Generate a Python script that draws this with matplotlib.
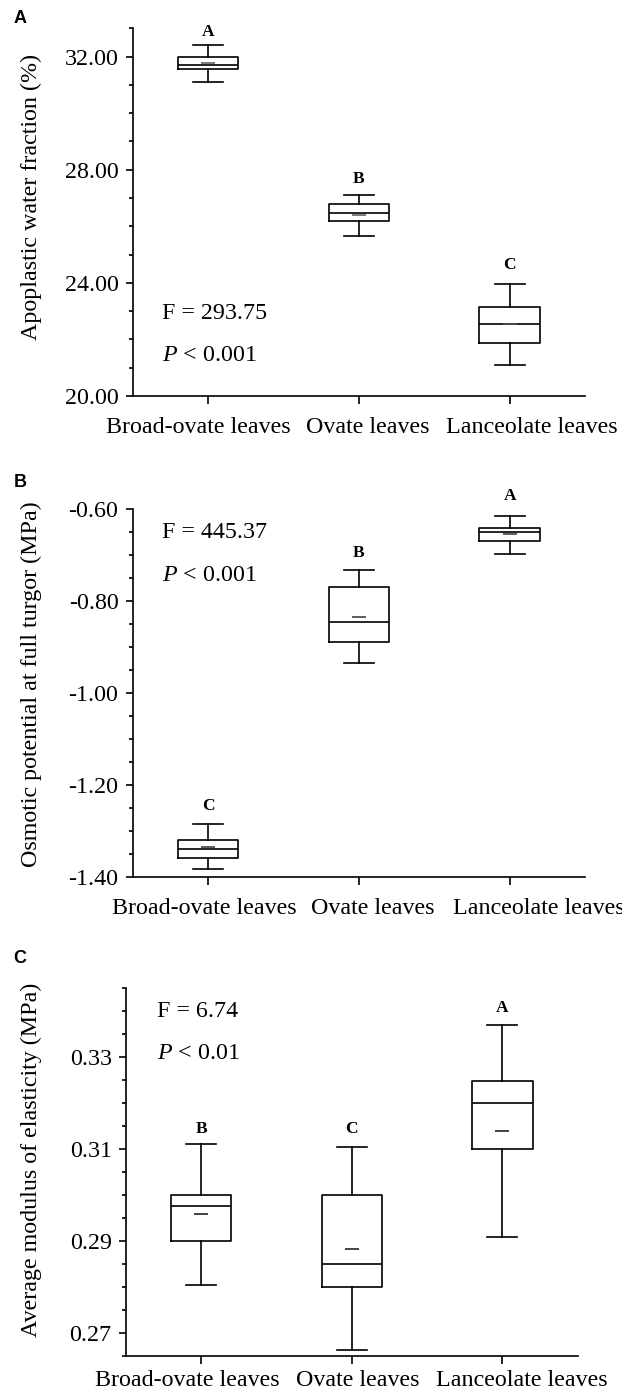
import matplotlib
matplotlib.use("Agg")
import matplotlib.pyplot as plt
import matplotlib.transforms as mtransforms
from matplotlib.ticker import MultipleLocator, FormatStrFormatter, FixedLocator

plt.rcParams['font.family'] = ['Liberation Serif', 'DejaVu Serif']
plt.rcParams['axes.unicode_minus'] = False
plt.rcParams['mathtext.fontset'] = 'custom'
plt.rcParams['mathtext.rm'] = 'Liberation Serif'
plt.rcParams['mathtext.it'] = 'Liberation Serif:italic'

categories = ["Broad-ovate leaves", "Ovate leaves", "Lanceolate leaves"]

# Panel A: Apoplastic water fraction (%)
a_whislo = [31.11, 25.66, 21.11]
a_q1 = [31.56, 26.18, 21.89]
a_med = [31.71, 26.48, 22.56]
a_mean = [31.76, 26.39, 22.53]
a_q3 = [31.98, 26.78, 23.16]
a_whishi = [32.41, 27.12, 23.95]
a_letters = ["A", "B", "C"]
a_letter_y = [32.74, 27.52, 24.49]
a_stats = ["F = 293.75", "$\\mathit{P}$ < 0.001"]
a_yticks = [20.0, 24.0, 28.0, 32.0]

# Panel B: Osmotic potential at full turgor (MPa)
b_whislo = [-1.384, -0.936, -0.698]
b_q1 = [-1.360, -0.890, -0.670]
b_med = [-1.340, -0.845, -0.649]
b_mean = [-1.335, -0.834, -0.655]
b_q3 = [-1.320, -0.770, -0.641]
b_whishi = [-1.286, -0.733, -0.615]
b_letters = ["C", "B", "A"]
b_letter_y = [-1.255, -0.704, -0.580]
b_stats = ["F = 445.37", "$\\mathit{P}$ < 0.001"]
b_yticks = [-1.40, -1.20, -1.00, -0.80, -0.60]

# Panel C: Average modulus of elasticity (MPa)
c_whislo = [0.2805, 0.2662, 0.2908]
c_q1 = [0.2900, 0.2800, 0.3100]
c_med = [0.2975, 0.2850, 0.3200]
c_mean = [0.2958, 0.2883, 0.3139]
c_q3 = [0.3000, 0.3000, 0.3249]
c_whishi = [0.3112, 0.3104, 0.3370]
c_letters = ["B", "C", "A"]
c_letter_y = [0.3135, 0.3134, 0.3399]
c_stats = ["F = 6.74", "$\\mathit{P}$ < 0.01"]
c_yticks = [0.27, 0.29, 0.31, 0.33]

W, H = 622, 1397
fig = plt.figure(figsize=(W / 100, H / 100), dpi=100)

FS = 17.3
LW = 1.2


def px_rect(left, right, top, bottom):
    return [left / W, 1 - bottom / H, (right - left) / W, (bottom - top) / H]


panels = [
    dict(rect=px_rect(132.7, 585, 28.3, 396), lo=a_whislo, q1=a_q1, med=a_med, mean=a_mean,
         q3=a_q3, hi=a_whishi, letters=a_letters, ly=a_letter_y, stats=a_stats,
         stat_x=-0.303, stat_y=[22.73, 21.25], ylim=(20, 33), yticks=a_yticks, minor=1,
         ylabel="Apoplastic water fraction (%)", ylab=(-0.2012, 0.540),
         xoff=[-10, 8.4, 22.5], xpad=9.5, tag="A", tag_y=23.3, mean_color="#555555"),
    dict(rect=px_rect(132.7, 585, 509, 876.7), lo=b_whislo, q1=b_q1, med=b_med, mean=b_mean,
         q3=b_q3, hi=b_whishi, letters=b_letters, ly=b_letter_y, stats=b_stats,
         stat_x=-0.303, stat_y=[-0.664, -0.756], ylim=(-1.4, -0.6), yticks=b_yticks, minor=0.05,
         ylabel="Osmotic potential at full turgor (MPa)", ylab=(-0.2012, 0.5235),
         xoff=[-4, 13.6, 29], xpad=9.5, tag="B", tag_y=486.7, mean_color="#333333"),
    dict(rect=px_rect(126, 577.7, 988.3, 1355.7), lo=c_whislo, q1=c_q1, med=c_med, mean=c_mean,
         q3=c_q3, hi=c_whishi, letters=c_letters, ly=c_letter_y, stats=c_stats,
         stat_x=-0.296, stat_y=[0.3388, 0.3297], ylim=(0.265, 0.345), yticks=c_yticks, minor=0.005,
         ylabel="Average modulus of elasticity (MPa)", ylab=(-0.1866, 0.5327),
         xoff=[-14, 5.5, 19.5], xpad=5.0, tag="C", tag_y=963.3, mean_color="#111111"),
]

for p in panels:
    ax = fig.add_axes(p["rect"])
    stats = []
    for i in range(3):
        stats.append(dict(whislo=p["lo"][i], q1=p["q1"][i], med=p["med"][i],
                          mean=p["mean"][i], q3=p["q3"][i], whishi=p["hi"][i],
                          fliers=[]))
    ax.bxp(stats, positions=[0, 1, 2], widths=0.4, capwidths=0.2, showmeans=True,
           showfliers=False,
           boxprops=dict(color="black", linewidth=LW),
           whiskerprops=dict(color="black", linewidth=LW),
           capprops=dict(color="black", linewidth=LW),
           medianprops=dict(color="black", linewidth=LW),
           meanprops=dict(marker="_", markersize=10, markeredgewidth=1.1,
                          markeredgecolor=p["mean_color"], color=p["mean_color"]))
    ax.set_xlim(-0.5, 2.5)
    ax.set_ylim(*p["ylim"])
    for s in ["top", "right"]:
        ax.spines[s].set_visible(False)
    for s in ["left", "bottom"]:
        ax.spines[s].set_linewidth(LW)
    ax.yaxis.set_major_locator(FixedLocator(p["yticks"]))
    ax.yaxis.set_minor_locator(MultipleLocator(p["minor"]))
    ax.yaxis.set_major_formatter(FormatStrFormatter("%.2f"))
    ax.tick_params(axis="y", which="major", direction="out", length=4.8, width=LW,
                   labelsize=FS, pad=5.5)
    ax.tick_params(axis="y", which="minor", direction="out", length=3.1, width=LW)
    ax.set_xticks([0, 1, 2])
    ax.set_xticklabels(categories)
    ax.tick_params(axis="x", which="major", direction="out", length=5.5, width=LW,
                   labelsize=FS, pad=p["xpad"])
    for lab, dx in zip(ax.get_xticklabels(), p["xoff"]):
        lab.set_transform(lab.get_transform() +
                          mtransforms.ScaledTranslation(dx / 100, 0, fig.dpi_scale_trans))
    ax.set_ylabel(p["ylabel"], fontsize=FS)
    ax.yaxis.set_label_coords(*p["ylab"])
    for i in range(3):
        ax.text(i, p["ly"][i], p["letters"][i], ha="center", va="baseline",
                fontsize=12.5, fontweight="bold", clip_on=False)
    for txt, y in zip(p["stats"], p["stat_y"]):
        ax.text(p["stat_x"], y, txt, ha="left", va="baseline", fontsize=FS)
    fig.text(13.3 / W, 1 - p["tag_y"] / H, p["tag"], ha="left", va="baseline",
             fontsize=13, fontweight="bold", family="Liberation Sans")

fig.savefig("out.png", dpi=100)
